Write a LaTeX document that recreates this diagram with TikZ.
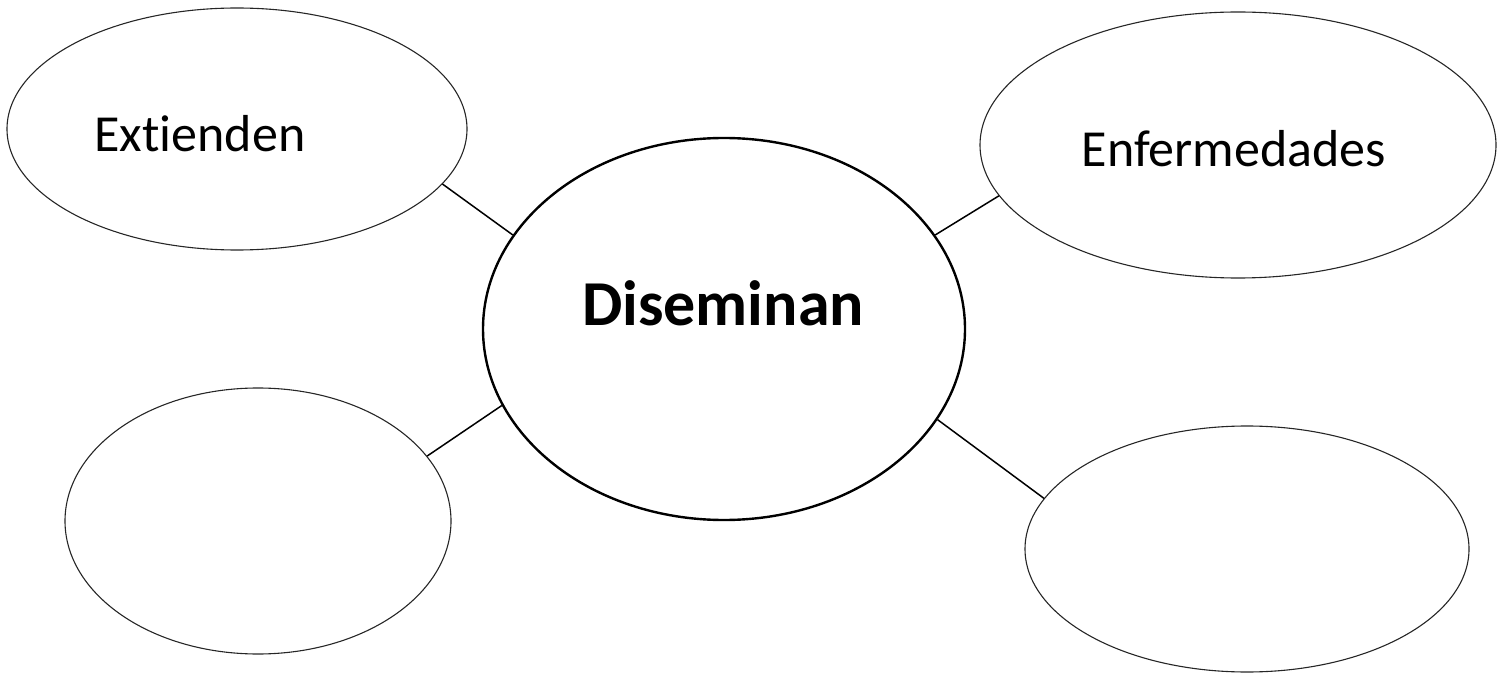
\documentclass[tikz,border=0pt]{standalone}
\usepackage{fontspec}
\setmainfont[Ligatures=NoCommon]{Carlito}
\usetikzlibrary{shapes.geometric}
\begin{document}
\begin{tikzpicture}[x=1pt,y=-1pt,
  bubble/.style={draw=black!85,ellipse,line width=1.1pt,inner sep=0pt},
  hub/.style={draw=black,ellipse,line width=2.4pt,inner sep=0pt},
  link/.style={draw=black,line width=1.5pt},
  lbl/.style={inner sep=0pt,font=\fontsize{52}{60}\selectfont},
  hublbl/.style={inner sep=0pt,font=\fontsize{64}{72}\selectfont\bfseries}]
\useasboundingbox (0,0) rectangle (1502,676);
\node[hub,minimum width=482pt,minimum height=382pt] (c) at (724,329) {};
\node[bubble,minimum width=460pt,minimum height=242pt] (tl) at (237,129) {};
\node[bubble,minimum width=516pt,minimum height=266pt] (tr) at (1238,145) {};
\node[bubble,minimum width=386pt,minimum height=266pt] (bl) at (258,521) {};
\node[bubble,minimum width=444pt,minimum height=246pt] (br) at (1247,549) {};
\node[lbl] (t1) at (200,134) {Extienden};
\node[lbl] (t2) at (1234,149) {Enfermedades};
\node[hublbl] (t0) at (723,303) {Diseminan};
\draw[link] (tl.-15) -- (c.156);
\draw[link] (tr.-168) -- (c.24);
\draw[link] (bl.21) -- (c.-161);
\draw[link] (br.166) -- (c.-23);
\end{tikzpicture}
\end{document}
